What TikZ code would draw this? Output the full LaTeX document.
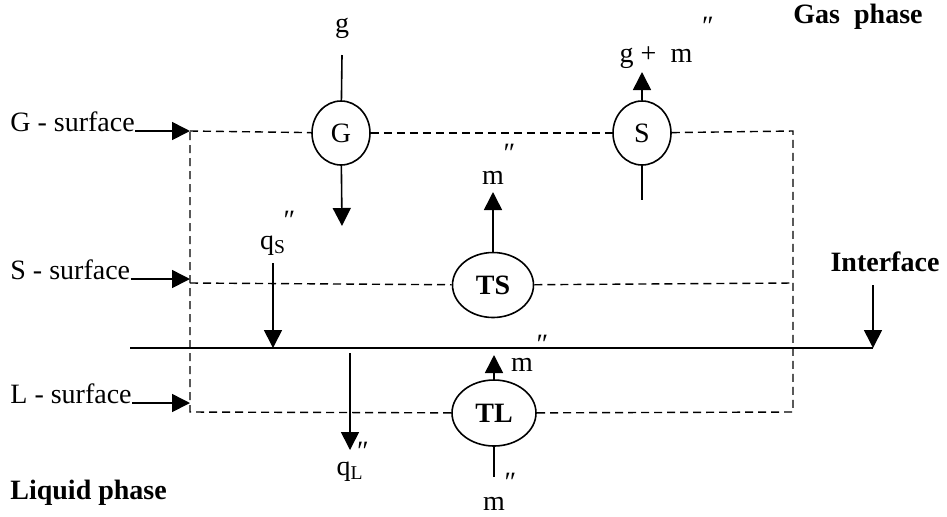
\documentclass[tikz,border=0pt]{standalone}
\usepackage{fontspec}
\setmainfont{Liberation Serif}
\usetikzlibrary{arrows.meta,shapes.geometric}

% raised double prime that takes no width
\newcommand{\dpr}[2][2pt]{\rlap{\hspace{#1}\raisebox{#2}{\textit{″}}}}

\begin{document}
\begin{tikzpicture}[x=0.5pt, y=-0.5pt, font=\fontsize{14}{16}\selectfont,
  flow/.style={-{Triangle[length=9pt,width=9pt]}, line width=0.8pt},
  plain/.style={line width=0.8pt},
  ctrl/.style={line width=0.7pt, dash pattern=on 4pt off 2.5pt},
  blob/.style={draw, ellipse, line width=0.8pt, inner sep=0pt},
  bold/.style={font=\fontsize{14}{16}\selectfont\bfseries},
  flux/.style={anchor=base}]
\useasboundingbox (0,0) rectangle (947,516);
% corners of the control volume
\coordinate (gs) at (190,131);
\coordinate (ss) at (190,283);
\coordinate (ls) at (190,412);
\coordinate (gr) at (793,131);
\coordinate (sr) at (793,283);
\coordinate (lr) at (793,412);
% interface line
\coordinate (il) at (130,348);
\coordinate (ir) at (873,348);
% surface nodes
\node[blob, minimum width=29pt, minimum height=32pt] (G) at (341,133) {G};
\node[blob, minimum width=29pt, minimum height=32pt] (S) at (642,133) {S};
\node[blob, bold, minimum width=40.5pt, minimum height=32.5pt] (TS) at (493,285) {TS};
\node[blob, bold, minimum width=42pt, minimum height=33pt] (TL) at (494,413) {TL};
% dashed control surfaces
\draw[ctrl] (gs) -- (G);
\draw[ctrl] (G) -- (S);
\draw[ctrl] (S) -- (gr) -- (lr) -- (TL);
\draw[ctrl] (TL) -- (ls) -- (gs);
\draw[ctrl] (ss) -- (TS);
\draw[ctrl] (TS) -- (sr);
\draw[line width=1pt] (il) -- (ir);
% side labels
\node[anchor=base west, inner xsep=0pt] (gsl) at (10,131) {G - surface};
\node[anchor=base west, inner xsep=0pt] (ssl) at (10,279) {S - surface};
\node[anchor=base west, inner xsep=0pt] (lsl) at (10,403) {L - surface};
\draw[flow] (gsl.base east) -- (gs);
\draw[flow] (ssl.base east) -- (ssl.base east -| ss);
\draw[flow] (lsl.base east) -- (lsl.base east -| ls);
\node[bold] (gas) at (858,17) {Gas\ \ phase};
\node[bold] (intf) at (885,262) {Interface};
\node[bold, anchor=west, inner xsep=0pt] (liq) at (10,493) {Liquid phase};
\coordinate (intop) at (873,285);
\draw[flow] (intop) -- (ir);
% fluxes at G and S
\node (gin) at (342,28) {g};
\coordinate (gtop) at (342,55);
\coordinate (gout) at (342,226);
\draw[plain] (gtop) -- (G);
\draw[flow] (G) -- (gout);
\node[flux] (sout) at (656,62) {g +\ \ m\dpr[4pt]{13.5pt}};
\coordinate (sup) at (642,72);
\coordinate (sin) at (642,200);
\draw[flow] (S) -- (sup);
\draw[plain] (S) -- (sin);
% fluxes at TS
\node[flux] (mts) at (493,184) {m\dpr[-1pt]{11pt}};
\coordinate (tsup) at (493,192);
\draw[flow] (TS) -- (tsup);
\node[flux] (qs) at (273,249) {q\textsubscript{S}\dpr[-2pt]{10pt}};
\coordinate (qstop) at (273,263);
\draw[flow] (qstop) -- (qstop |- il);
% fluxes at TL
\node[flux] (mtl) at (522,371) {m\dpr[1pt]{9pt}};
\coordinate (tlup) at (494,355);
\draw[flow] (TL) -- (tlup);
\node[flux, inner sep=1pt] (min) at (494,510) {m\dpr[-1pt]{9.5pt}};
\coordinate (tlin) at (494,477);
\draw[plain] (TL) -- (tlin);
\node[flux] (ql) at (350,475) {q\textsubscript{L}\dpr[-4pt]{7.5pt}};
\coordinate (qltop) at (350,353);
\coordinate (qlbot) at (350,450);
\draw[flow] (qltop) -- (qlbot);
\end{tikzpicture}
\end{document}
